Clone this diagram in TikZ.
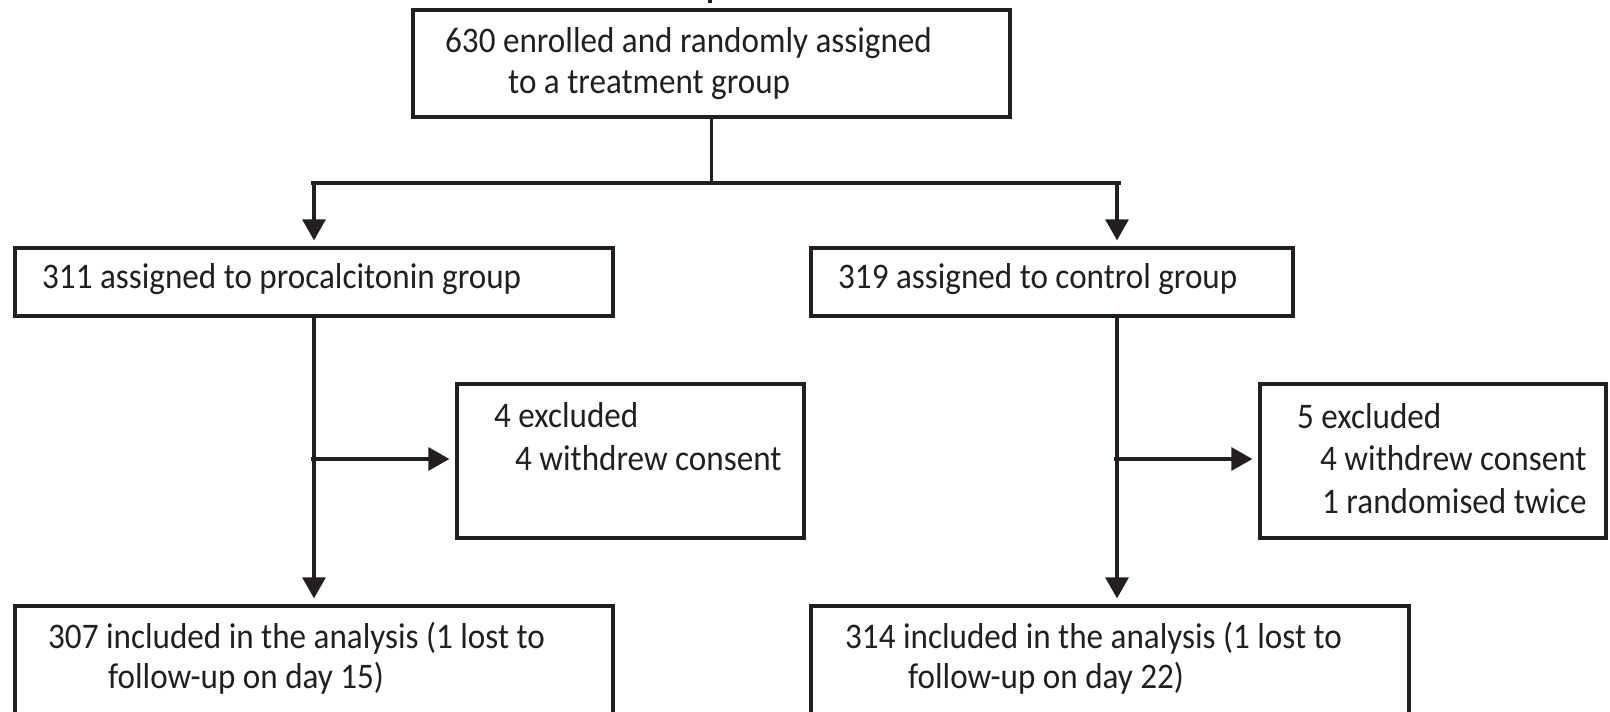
\documentclass[tikz,border=0pt]{standalone}
\usepackage{fontspec}
\setmainfont[FakeStretch=0.92]{Carlito}
\usetikzlibrary{arrows.meta}
\definecolor{ink}{HTML}{231F20}
\tikzset{
  box/.style={draw=ink, line width=3.2pt, rectangle, inner sep=0pt},
  conn/.style={draw=ink, line width=3.2pt},
  arr/.style={conn, -{Triangle[width=23pt,length=21pt]}, shorten >=6pt},
  txt/.style={anchor=base west, inner sep=0pt, text=ink, font=\fontsize{36}{43}\selectfont}
}
\begin{document}
\begin{tikzpicture}[x=1pt,y=-1pt]
\useasboundingbox (0,0) rectangle (1610,712);
\clip (0,0) rectangle (1610,712);
% boxes
\node[box, minimum width=597pt, minimum height=107pt] (top) at (711.5,63.5) {};
\node[box, minimum width=598pt, minimum height=68pt] (L2) at (314,282) {};
\node[box, minimum width=482pt, minimum height=68pt] (R2) at (1052,282) {};
\node[box, minimum width=347pt, minimum height=154pt] (exL) at (630.5,461) {};
\node[box, minimum width=346pt, minimum height=154pt] (exR) at (1433,461) {};
\node[box, minimum width=598pt, minimum height=154pt] (bL) at (314,683) {};
\node[box, minimum width=598pt, minimum height=154pt] (bR) at (1110,683) {};
% texts
\node[txt] (t1) at (445,52) {630 enrolled and randomly assigned};
\node[txt] (t2) at (508,93) {to a treatment group};
\node[txt] (l2t) at (42,288) {311 assigned to procalcitonin group};
\node[txt] (r2t) at (838,288) {319 assigned to control group};
\node[txt] (exl1) at (494,427) {4 excluded};
\node[txt] (exl2) at (515,470) {4 withdrew consent};
\node[txt] (exr1) at (1297,428) {5 excluded};
\node[txt] (exr2) at (1320,470) {4 withdrew consent};
\node[txt] (exr3) at (1322,513) {1 randomised twice};
\node[txt] (bl1) at (48,648) {307 included in the analysis (1 lost to};
\node[txt] (bl2) at (108,688) {follow-up on day 15)};
\node[txt] (br1) at (845,648) {314 included in the analysis (1 lost to};
\node[txt] (br2) at (908,688) {follow-up on day 22)};
% connectors
\coordinate (stubA) at (710,-2);
\coordinate (stubB) at (710,3);
\draw[conn] (stubA) -- (stubB);
\coordinate (hL) at (311,183);
\coordinate (hR) at (1121,183);
\coordinate (cL) at (314,183);
\coordinate (cR) at (1117,183);
\draw[conn] (top.south) -- (top.south |- hL);
\draw[conn] (hL) -- (hR);
\draw[arr] (cL) -- (cL |- L2.north);
\draw[arr] (cR) -- (cR |- R2.north);
\draw[arr] (L2.south) -- (bL.north);
\draw[arr] (R2.south -| cR) -- (bR.north -| cR);
\coordinate (brL) at (311,459);
\coordinate (brR) at (1114,459);
\draw[arr] (brL) -- (brL -| exL.west);
\draw[arr] (brR) -- (brR -| exR.west);
\end{tikzpicture}
\end{document}
